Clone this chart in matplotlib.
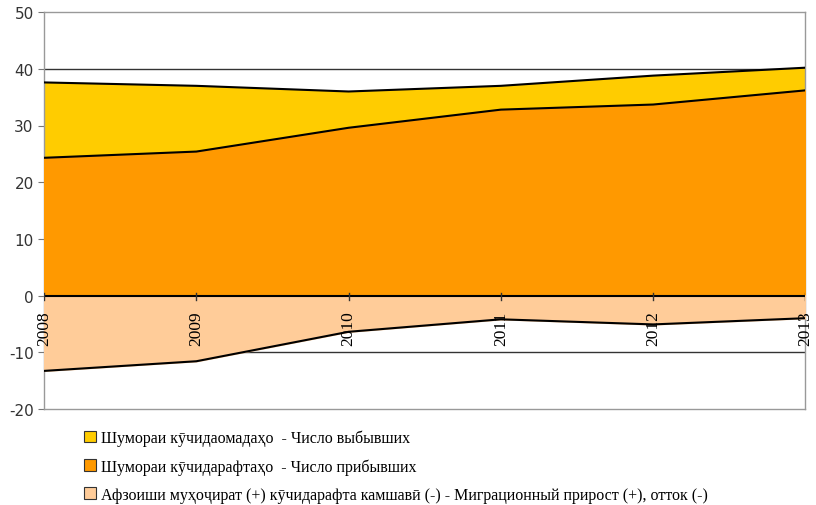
import matplotlib.pyplot as plt
from matplotlib.patches import Patch

years = ["2008", "2009", "2010", "2011", "2012", "2013"]
departed = [37.6, 37.0, 36.0, 37.0, 38.8, 40.2]     # yellow
arrived = [24.3, 25.4, 29.6, 32.8, 33.7, 36.2]      # orange
migration = [-13.3, -11.6, -6.4, -4.2, -5.1, -4.0]  # peach

labels = [
    "Шумораи кӯчидаомадаҳо  - Число выбывших",
    "Шумораи кӯчидарафтаҳо  - Число прибывших",
    "Афзоиши муҳоҷират (+) кӯчидарафта камшавӣ (-) - Миграционный прирост (+), отток (-)",
]
colors = ["#FFCC00", "#FF9900", "#FFCC99"]

plt.rcParams["axes.unicode_minus"] = False

fig = plt.figure(figsize=(8.16, 5.06), dpi=100)
ax = fig.add_axes([0.054, 0.19, 0.933, 0.784])

x = list(range(len(years)))
for yv in [-10, 10, 20, 30, 40]:
    ax.axhline(yv, color="#333333", lw=1.0, zorder=1)

ax.fill_between(x, 0, departed, color=colors[0], zorder=2)
ax.plot(x, departed, color="black", lw=1.5, zorder=3)
ax.fill_between(x, 0, arrived, color=colors[1], zorder=4)
ax.plot(x, arrived, color="black", lw=1.5, zorder=5)
ax.fill_between(x, 0, migration, color=colors[2], zorder=4)
ax.plot(x, migration, color="black", lw=1.5, zorder=5)
ax.axhline(0, color="black", lw=1.5, zorder=6)

ax.set_xlim(0, len(years) - 1)
ax.set_ylim(-20, 50)
ax.set_yticks(range(-20, 51, 10))
ax.tick_params(axis="y", labelsize=11, labelcolor="#333333", length=4, color="#777777")

ax.set_xticks(x)
ax.set_xticklabels([])
ax.tick_params(axis="x", length=0)
for xi, yr in zip(x, years):
    ax.plot([xi, xi], [0.4, -0.8], color="#333333", lw=1, zorder=7)
    ax.text(xi, -2.6, yr, rotation=90, ha="center", va="top", fontsize=12.5,
            family=["Liberation Serif", "DejaVu Serif"], zorder=8)

for s in ax.spines.values():
    s.set_color("#999999")
    s.set_linewidth(1.0)

handles = [Patch(facecolor=c, edgecolor="#333333", lw=0.8) for c in colors]
fig.legend(handles, labels, loc="upper left", bbox_to_anchor=(0.103, 0.149),
           frameon=False, prop={"family": ["Liberation Serif", "DejaVu Serif"], "size": 11.5},
           handlelength=0.75, handleheight=0.75, handletextpad=0.3, labelspacing=0.75,
           borderaxespad=0, borderpad=0)

fig.savefig("out.png", dpi=100)
